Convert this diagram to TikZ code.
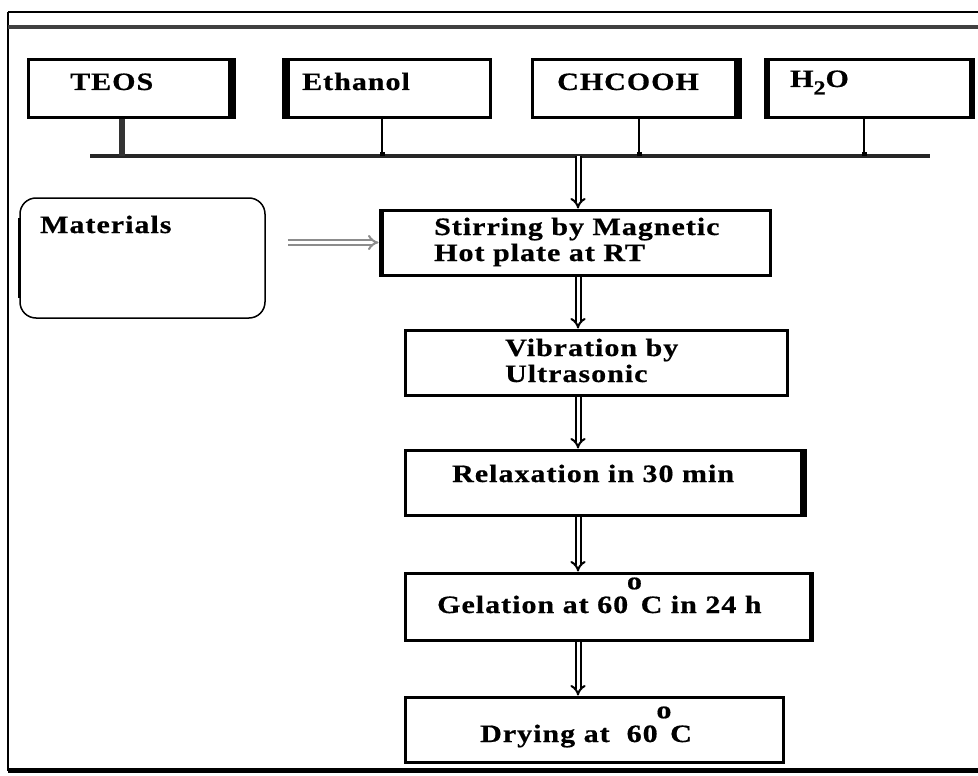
\documentclass[tikz,border=0pt]{standalone}
\usepackage{fontspec}
\newfontfamily\dfont{Liberation Serif}[FakeStretch=1.2,LetterSpace=4,FakeBold=0.6]
\usetikzlibrary{arrows.meta,calc}
\begin{document}
\begin{tikzpicture}[x=1pt,y=-1pt,
  box/.style={draw,line width=3pt,rectangle,inner sep=0pt},
  lbl/.style={anchor=base west,inner sep=0pt,font=\dfont\bfseries\fontsize{25}{26}\selectfont,align=left},
  dblarrow/.style={double,line width=2pt,double distance=3pt,-{Implies[length=6pt,width=16pt]}},
  drop/.style={line width=2pt,-{Square[length=4pt,width=5pt]}}]
\useasboundingbox (0,0) rectangle (978,776);
\fill[white] (0,0) rectangle (978,776);
% frame
\draw[line width=2pt] (8,12) -- (978,12);
\draw[line width=2pt] (8,12) -- (8,771);
\draw[line width=4pt,black!75] (8,27) -- (978,27);
\draw[line width=5pt] (8,770) -- (978,770);
% top boxes
\node[box,minimum width=206,minimum height=57] (teos) at (131,88.5) {};
\node[box,minimum width=207,minimum height=57] (eth) at (386.5,88.5) {};
\node[box,minimum width=208,minimum height=57] (ch) at (636,88.5) {};
\node[box,minimum width=208,minimum height=57] (h2o) at (869,88.5) {};
\fill ([xshift=-8pt]teos.north east) rectangle (teos.south east);
\fill (eth.north west) rectangle ([xshift=8pt]eth.south west);
\fill ([xshift=-8pt]ch.north east) rectangle (ch.south east);
\fill (h2o.north west) rectangle ([xshift=6pt]h2o.south west);
\fill ([xshift=-6pt]h2o.north east) rectangle (h2o.south east);
\node[lbl] (teost) at (70,90) {TEOS};
\node[lbl] (etht) at (302,90) {Ethanol};
\node[lbl] (cht) at (557,90) {CHCOOH};
\node[lbl] (h2ot) at (790,87) {H\raisebox{-0.3em}{\fontsize{20}{20}\selectfont 2}O};
% bus
\coordinate (busL) at (90,156);
\coordinate (busR) at (930,156);
\coordinate (busM) at (578,156);
\draw[line width=4pt,black!85] (busL) -- (busR);
\draw[line width=6pt,black!80] ([xshift=-9pt]teos.south) -- ([xshift=-9pt]teos.south |- busL);
\draw[drop] ([xshift=-4.5pt]eth.south) -- ([xshift=-4.5pt]eth.south |- busL);
\draw[drop] ([xshift=3pt]ch.south) -- ([xshift=3pt]ch.south |- busL);
\draw[drop] ([xshift=-5pt]h2o.south) -- ([xshift=-5pt]h2o.south |- busL);
% materials
\node[draw,line width=1.5pt,rounded corners=16pt,minimum width=245,minimum height=120,inner sep=0pt] (mat) at (142.5,258) {};
\draw[line width=3pt] ([yshift=-40pt]mat.west) -- ([yshift=40pt]mat.west);
\node[lbl] (matt) at (40,233) {Materials};
% process boxes
\node[box,minimum width=390,minimum height=65] (stir) at (575,242.5) {};
\fill (stir.north west) rectangle ([xshift=5pt]stir.south west);
\node[lbl] (stirt) at (434,261) {Stirring by Magnetic\\Hot plate at RT};
\node[box,minimum width=382,minimum height=65] (vib) at (596,362.5) {};
\node[lbl] (vibt) at (505,382) {Vibration by\\Ultrasonic};
\node[box,minimum width=400,minimum height=65] (rel) at (605,482.5) {};
\fill ([xshift=-7pt]rel.north east) rectangle (rel.south east);
\node[lbl] (relt) at (452,482) {Relaxation in 30 min};
\node[box,minimum width=407,minimum height=67] (gel) at (608.5,606.5) {};
\fill ([xshift=-5pt]gel.north east) rectangle (gel.south east);
\node[lbl] (gelt) at (437,613) {Gelation at 60\makebox[0.5em]{\raisebox{0.95em}{o}}C in 24 h};
\node[box,minimum width=378,minimum height=65] (dry) at (594,729.5) {};
\node[lbl] (dryt) at (480,742) {Drying at~ 60\makebox[0.5em]{\raisebox{0.95em}{o}}C};
% arrows
\draw[dblarrow] (busM) -- (busM |- stir.north);
\draw[dblarrow] (stir.south -| busM) -- (vib.north -| busM);
\draw[dblarrow] (vib.south -| busM) -- (rel.north -| busM);
\draw[dblarrow] (rel.south -| busM) -- (gel.north -| busM);
\draw[dblarrow] (gel.south -| busM) -- (dry.north -| busM);
\draw[dblarrow,black!45] ([xshift=22pt]mat.east |- stir.west) -- (stir.west);
\end{tikzpicture}
\end{document}
